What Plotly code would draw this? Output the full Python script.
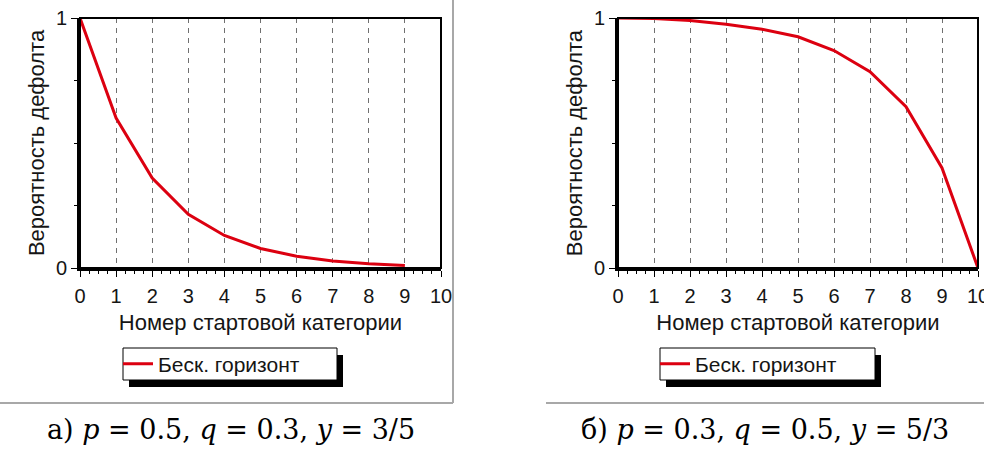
import plotly.graph_objects as go

W, H = 984, 452

# ---- data ----
categories_a = [0, 1, 2, 3, 4, 5, 6, 7, 8, 9]
prob_a = [1.0, 0.60, 0.36, 0.215, 0.13, 0.078, 0.047, 0.028, 0.017, 0.01]

categories_b = [0, 1, 2, 3, 4, 5, 6, 7, 8, 9, 10]
prob_b = [1.0, 0.998, 0.99, 0.975, 0.955, 0.925, 0.87, 0.785, 0.645, 0.40, 0.0]

x_ticks = [0, 1, 2, 3, 4, 5, 6, 7, 8, 9, 10]
y_ticks = [0, 1]
series_name = "Беск. горизонт"
x_title = "Номер стартовой категории"
y_title = "Вероятность дефолта"
SP = "&nbsp;"
caption_a = f"а){SP}<i>p</i>{SP}={SP}0.5,{SP}<i>q</i>{SP}={SP}0.3,{SP}<i>y</i>{SP}={SP}3/5"
caption_b = f"б){SP}<i>p</i>{SP}={SP}0.3,{SP}<i>q</i>{SP}={SP}0.5,{SP}<i>y</i>{SP}={SP}5/3"

FONT = "Liberation Sans"
RED = "#dc0010"
TXT = "#151515"


def px(x):
    return x / W


def py(y):
    return 1 - y / H


fig = go.Figure()
fig.add_trace(go.Scatter(x=categories_a, y=prob_a, mode="lines", name=series_name,
                         line=dict(color=RED, width=3), xaxis="x", yaxis="y",
                         legend="legend", cliponaxis=False))
fig.add_trace(go.Scatter(x=categories_b, y=prob_b, mode="lines", name=series_name,
                         line=dict(color=RED, width=3), xaxis="x2", yaxis="y2",
                         legend="legend2", cliponaxis=False))

plot_top, plot_bot = 18, 268
panels = [(80, 441), (618, 978)]


def xaxis(dom, anchor):
    return dict(domain=[px(dom[0]), px(dom[1])], anchor=anchor, range=[0, 10],
                automargin=False, ticklabeloverflow="allow",
                tickmode="array", tickvals=x_ticks, ticktext=[str(v) for v in x_ticks],
                ticks="outside", ticklen=6, tickwidth=1, tickcolor="black",
                ticklabelstandoff=2,
                minor=dict(dtick=0.25, tick0=0, ticks="outside", ticklen=3,
                           tickcolor="black", showgrid=False),
                showgrid=True, gridcolor="#707070", griddash="5px,5px", gridwidth=1,
                showline=True, linecolor="black", linewidth=3, zeroline=False,
                tickfont=dict(family=FONT, size=20, color=TXT),
                title=dict(text=x_title, standoff=9,
                           font=dict(family=FONT, size=22, color=TXT)),
                fixedrange=True)


def yaxis(anchor):
    return dict(domain=[py(plot_bot), py(plot_top)], anchor=anchor, range=[0, 1],
                automargin=False,
                tickmode="array", tickvals=y_ticks, ticktext=[str(v) for v in y_ticks],
                ticks="outside", ticklen=6, tickwidth=1, tickcolor="black",
                ticklabelstandoff=0,
                minor=dict(dtick=0.25, tick0=0, ticks="outside", ticklen=3,
                           tickcolor="black", showgrid=False),
                showgrid=False, showline=True, linecolor="black", linewidth=3,
                zeroline=False,
                tickfont=dict(family=FONT, size=20, color=TXT),
                title=dict(text=y_title, standoff=6,
                           font=dict(family=FONT, size=22, color=TXT)),
                fixedrange=True)


shapes = []
for (x0, x1) in panels:
    shapes.append(dict(type="rect", xref="paper", yref="paper",
                       x0=px(x0), x1=px(x1), y0=py(plot_bot), y1=py(plot_top),
                       line=dict(color="black", width=2), layer="above"))

legend_boxes = [(123, 337), (660, 875)]
for (bx0, bx1) in legend_boxes:
    shapes.append(dict(type="rect", xref="paper", yref="paper",
                       x0=px(bx0 + 6), x1=px(bx1 + 6), y0=py(348 + 7), y1=py(380 + 7),
                       fillcolor="black", line=dict(width=0), layer="below"))
    shapes.append(dict(type="rect", xref="paper", yref="paper",
                       x0=px(bx0), x1=px(bx1), y0=py(348), y1=py(380),
                       fillcolor="white", line=dict(color="black", width=1), layer="below"))

sep = dict(color="#a8a8a8", width=2)
shapes.append(dict(type="line", xref="paper", yref="paper", x0=px(453), x1=px(453),
                   y0=py(0), y1=py(403), line=sep))
shapes.append(dict(type="line", xref="paper", yref="paper", x0=px(0), x1=px(453),
                   y0=py(403), y1=py(403), line=sep))
shapes.append(dict(type="line", xref="paper", yref="paper", x0=px(546), x1=px(984),
                   y0=py(403), y1=py(403), line=sep))

CAP_FONT = dict(family="DejaVu Serif", size=27, color="black")
annotations = [
    dict(text=caption_a, x=px(231), y=py(429), xref="paper", yref="paper",
         showarrow=False, xanchor="center", yanchor="middle", font=CAP_FONT),
    dict(text=caption_b, x=px(765), y=py(429), xref="paper", yref="paper",
         showarrow=False, xanchor="center", yanchor="middle", font=CAP_FONT),
]

leg_common = dict(bgcolor="rgba(0,0,0,0)", borderwidth=0, xanchor="left",
                  yanchor="middle", font=dict(family=FONT, size=21, color=TXT),
                  itemwidth=30, tracegroupgap=0)

fig.update_layout(
    width=W, height=H, margin=dict(l=0, r=0, t=0, b=0),
    paper_bgcolor="white", plot_bgcolor="white",
    xaxis=xaxis(panels[0], "y"), yaxis=yaxis("x"),
    xaxis2=xaxis(panels[1], "y2"), yaxis2=yaxis("x2"),
    shapes=shapes, annotations=annotations,
    showlegend=True,
    legend=dict(x=px(118), y=py(364), **leg_common),
    legend2=dict(x=px(655), y=py(364), **leg_common),
)

fig.write_html("out.html", config={"displayModeBar": False},
               post_script="document.body.style.margin='0';"
                           "document.body.style.overflow='hidden';")
